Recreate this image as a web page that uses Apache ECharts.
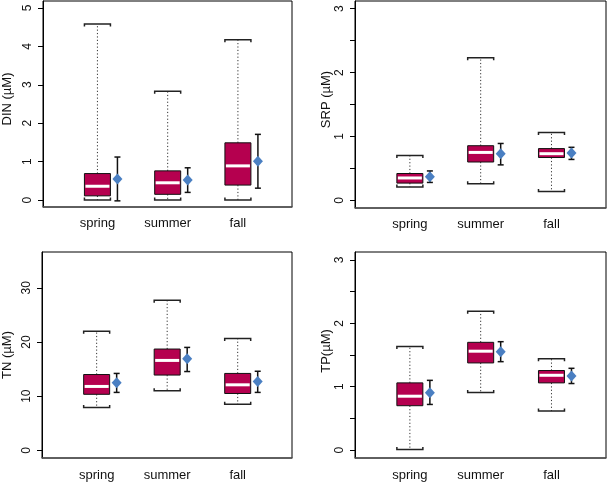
<!DOCTYPE html>
<html>
<head>
<meta charset="utf-8">
<script src="https://cdn.jsdelivr.net/npm/echarts@6/dist/echarts.min.js"></script>
<style>
html,body{margin:0;padding:0;background:#fff;}
#chart{width:608px;height:482px;}
</style>
</head>
<body>
<div id="chart"></div>
<script>
const categories = ['spring', 'summer', 'fall'];

// box stats per season: [lower whisker, Q1, median, Q3, upper whisker]
const dinBox = [[0.00, 0.11, 0.36, 0.69, 4.58], [0.00, 0.15, 0.45, 0.76, 2.83], [0.00, 0.39, 0.89, 1.49, 4.17]];
const srpBox = [[0.21, 0.27, 0.35, 0.42, 0.70], [0.26, 0.60, 0.75, 0.855, 2.23], [0.14, 0.67, 0.73, 0.81, 1.06]];
const tnBox  = [[7.9, 10.35, 11.8, 14.0, 22.0], [11.0, 13.9, 16.6, 18.7, 27.7], [8.5, 10.5, 12.1, 14.2, 20.65]];
const tpBox  = [[0.01, 0.70, 0.85, 1.06, 1.635], [0.91, 1.375, 1.56, 1.70, 2.19], [0.615, 1.06, 1.18, 1.255, 1.44]];

// mean with error bar: [mean, lower, upper]
const dinMean = [[0.55, -0.02, 1.12], [0.52, 0.20, 0.84], [1.01, 0.31, 1.71]];
const srpMean = [[0.37, 0.28, 0.46], [0.73, 0.555, 0.89], [0.74, 0.64, 0.83]];
const tnMean  = [[12.5, 10.7, 14.2], [16.9, 14.55, 19.0], [12.7, 10.7, 14.6]];
const tpMean  = [[0.905, 0.72, 1.10], [1.55, 1.395, 1.71], [1.17, 1.05, 1.29]];

// axis ticks / labels
const dinTicks = [0, 1, 2, 3, 4, 5];
const dinLabels = [0, 1, 2, 3, 4, 5];
const srpTicks = [0, 0.5, 1, 1.5, 2, 2.5, 3];
const srpLabels = [0, 1, 2, 3];
const tnTicks = [0, 10, 20, 30];
const tnLabels = [0, 10, 20, 30];
const tpTicks = [0, 0.5, 1, 1.5, 2, 2.5, 3];
const tpLabels = [0, 1, 2, 3];

const FONT = 'Liberation Sans, Arial, Helvetica, sans-serif';
const BOX_FILL = '#B5004F';
const MEAN_COLOR = '#4A7FC2';

const panels = [
  {name: 'DIN (µM)', box: dinBox, mean: dinMean, ticks: dinTicks, labels: dinLabels, min: -0.18, max: 5.18,
   grid: {left: 39, top: 1, width: 253, height: 206}, nameGap: 29, namePad: [0, 0, 0, 10], xMargin: 10},
  {name: 'SRP (µM)', box: srpBox, mean: srpMean, ticks: srpTicks, labels: srpLabels, min: -0.12, max: 3.12,
   grid: {left: 355, top: 1, width: 251, height: 207}, nameGap: 22, namePad: [0, 0, 0, 10], xMargin: 10},
  {name: 'TN (µM)', box: tnBox, mean: tnMean, ticks: tnTicks, labels: tnLabels, min: -1.4, max: 36.6,
   grid: {left: 39, top: 252, width: 253, height: 208}, nameGap: 28, namePad: [0, 0, 0, 0], xMargin: 11},
  {name: 'TP(µM)', box: tpBox, mean: tpMean, ticks: tpTicks, labels: tpLabels, min: -0.125, max: 3.125,
   grid: {left: 355, top: 252, width: 251, height: 208}, nameGap: 22, namePad: [0, 0, 0, 8], xMargin: 11}
];

function renderBox(params, api) {
  const x = api.value(0);
  const lo = api.coord([x, api.value(1)]);
  const q1 = api.coord([x, api.value(2)]);
  const md = api.coord([x, api.value(3)]);
  const q3 = api.coord([x, api.value(4)]);
  const hi = api.coord([x, api.value(5)]);
  const cx = lo[0];
  const hw = 13;
  const dot = {stroke: '#333', lineWidth: 1, lineDash: [1.2, 2.2]};
  const cap = {stroke: '#222', lineWidth: 1.5, fill: null};
  return {
    type: 'group',
    children: [
      {type: 'line', shape: {x1: cx, y1: q3[1], x2: cx, y2: hi[1]}, style: dot},
      {type: 'line', shape: {x1: cx, y1: q1[1], x2: cx, y2: lo[1]}, style: dot},
      {type: 'polyline', shape: {points: [[cx - hw, hi[1] + 2.5], [cx - hw, hi[1]], [cx + hw, hi[1]], [cx + hw, hi[1] + 2.5]]}, style: cap},
      {type: 'polyline', shape: {points: [[cx - hw, lo[1] - 2.5], [cx - hw, lo[1]], [cx + hw, lo[1]], [cx + hw, lo[1] - 2.5]]}, style: cap},
      {type: 'rect', shape: {x: cx - hw, y: q3[1], width: hw * 2, height: q1[1] - q3[1]},
       style: {fill: BOX_FILL, stroke: '#111', lineWidth: 1}},
      {type: 'line', shape: {x1: cx - hw + 1, y1: md[1], x2: cx + hw - 1, y2: md[1]},
       style: {stroke: '#fff', lineWidth: 3}}
    ]
  };
}

function renderMean(params, api) {
  const x = api.value(0);
  const m = api.coord([x, api.value(1)]);
  const lo = api.coord([x, api.value(2)]);
  const hi = api.coord([x, api.value(3)]);
  const ex = m[0] + 20;
  const bar = {stroke: '#111', lineWidth: 1.5};
  return {
    type: 'group',
    children: [
      {type: 'line', shape: {x1: ex, y1: lo[1], x2: ex, y2: hi[1]}, style: bar},
      {type: 'line', shape: {x1: ex - 3, y1: lo[1], x2: ex + 3, y2: lo[1]}, style: bar},
      {type: 'line', shape: {x1: ex - 3, y1: hi[1], x2: ex + 3, y2: hi[1]}, style: bar},
      {type: 'polygon', shape: {points: [[ex, m[1] - 5.5], [ex + 5, m[1]], [ex, m[1] + 5.5], [ex - 5, m[1]]]},
       style: {fill: MEAN_COLOR}}
    ]
  };
}

const grids = [], xAxes = [], yAxes = [], series = [];
panels.forEach((p, i) => {
  grids.push(Object.assign({show: true, borderColor: '#000', borderWidth: 1, backgroundColor: 'transparent'}, p.grid));
  xAxes.push({
    gridIndex: i, type: 'value', min: 0.225, max: 3.77,
    axisLine: {show: true, onZero: false, lineStyle: {color: '#555', width: 1.5}},
    axisTick: {show: false}, splitLine: {show: false},
    axisLabel: {customValues: [1, 2, 3], formatter: v => categories[Math.round(v) - 1],
                fontSize: 13, color: '#111', fontFamily: FONT, margin: p.xMargin}
  });
  yAxes.push({
    gridIndex: i, type: 'value', min: p.min, max: p.max,
    axisLine: {show: true, onZero: false, lineStyle: {color: '#000', width: 1}},
    axisTick: {show: true, customValues: p.ticks, length: 5, lineStyle: {color: '#000'}},
    axisLabel: {customValues: p.labels, rotate: 90, fontSize: 12, color: '#111', fontFamily: FONT, margin: 9},
    splitLine: {show: false},
    name: p.name, nameLocation: 'middle', nameRotate: 90, nameGap: p.nameGap,
    nameTextStyle: {fontSize: 13, color: '#111', fontFamily: FONT, padding: p.namePad}
  });
  series.push({
    type: 'custom', xAxisIndex: i, yAxisIndex: i, renderItem: renderBox, silent: true,
    data: categories.map((c, k) => [k + 1].concat(p.box[k]))
  });
  series.push({
    type: 'custom', xAxisIndex: i, yAxisIndex: i, renderItem: renderMean, silent: true,
    data: categories.map((c, k) => [k + 1].concat(p.mean[k]))
  });
});

const chart = echarts.init(document.getElementById('chart'), null, {renderer: 'canvas'});
chart.setOption({
  animation: false,
  backgroundColor: '#fff',
  grid: grids, xAxis: xAxes, yAxis: yAxes, series: series
});
</script>
</body>
</html>
